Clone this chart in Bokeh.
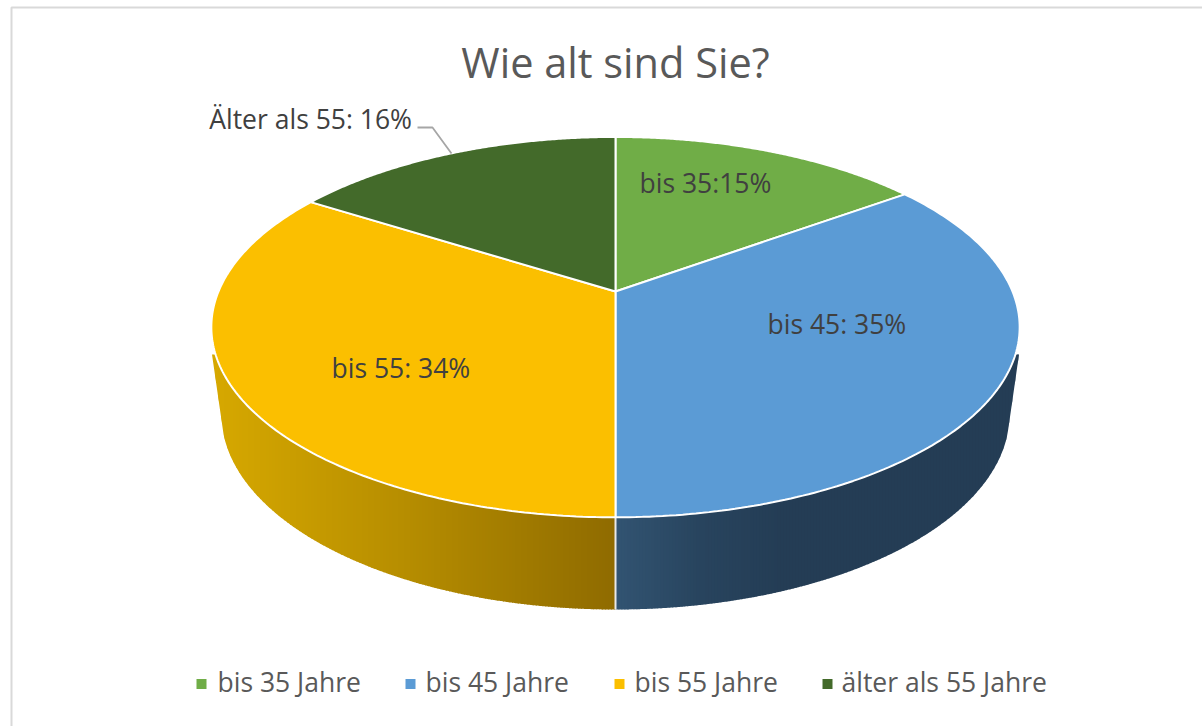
import numpy as np
from bokeh.plotting import figure
from bokeh.embed import file_html
from bokeh.resources import INLINE
from bokeh.core.properties import value

title = "Wie alt sind Sie?"
categories = ["bis 35 Jahre", "bis 45 Jahre", "bis 55 Jahre", "älter als 55 Jahre"]
shares = [15, 35, 34, 16]
slice_labels = ["bis 35:15%", "bis 45: 35%", "bis 55: 34%", "Älter als 55: 16%"]
colors = ["#70AD47", "#5B9BD5", "#FBBF00", "#436A2A"]

label_pos = [(639, 182, "left"), (767, 323, "left"), (331, 367, "left"), (411.5, 118, "right")]
legend_sq = [196, 405, 614, 822]
legend_tx = [217, 425, 634, 841]
FONT = "Open Sans"

W, H = 1202, 726
p = figure(width=W, height=H, x_range=(0, W), y_range=(H, 0), output_backend="svg",
           toolbar_location=None, min_border=0, margin=0,
           styles={"position": "absolute", "left": "0px", "top": "0px"},
           outline_line_color=None, background_fill_color="white", border_fill_color="white")
p.axis.visible = False
p.grid.visible = False

# perspective projection of the unit disc onto the picture
CX, AY = 615.0, 291.0      # pie centre as projected
PK, PA, PD = 0.1873, -129.0, 397.0

def project(theta):
    den = PK * np.cos(theta) + 1
    return CX + PD * np.sin(theta) / den, (PA * np.cos(theta) + AY) / den

# top-rim and bottom-rim outlines as functions of x
EU_Y, EU_B, EU_A = 326.5, 190.0, 403.5
EL_Y, EL_B, EL_A = 414.0, 195.0, 394.0
KNEE, TIP_Y = 392.0, 354.0

def upper(x):
    return np.maximum(EU_Y + EU_B * np.sqrt(np.clip(1 - ((x - CX) / EU_A) ** 2, 0, 1)), TIP_Y)

def lower(x):
    d = np.abs(x - CX)
    y = EL_Y + EL_B * np.sqrt(np.clip(1 - (d / EL_A) ** 2, 0, 1))
    yk = EL_Y + EL_B * np.sqrt(1 - (KNEE / EL_A) ** 2)
    return np.where(d > KNEE, yk + (d - KNEE) / (EU_A - KNEE) * (TIP_Y - yk), y)

def mix(stops, t):
    ts = [s[0] for s in stops]
    ch = [np.interp(t, ts, [s[1][i] for s in stops]) for i in range(3)]
    return "#%02x%02x%02x" % tuple(int(round(c)) for c in ch)

YEL = [(214, (214, 168, 0)), (400, (183, 142, 0)), (615, (143, 107, 0))]
BLU = [(615, (50, 84, 114)), (700, (40, 68, 94)), (780, (36, 61, 85)), (1018, (36, 61, 85))]

def side(x0, x1, stops, step=3.0):
    xs = np.arange(x0, x1, step)
    if len(xs) and xs[-1] < x1:
        xs = np.append(xs, x1)
    px, py, col = [], [], []
    for a, b in zip(xs[:-1], xs[1:]):
        e = min(b + 0.8, x1)
        xx = np.linspace(a, e, 4)
        px.append(np.r_[xx, xx[::-1]])
        py.append(np.r_[upper(xx), lower(xx)[::-1]])
        col.append(mix(stops, (a + b) / 2))
    p.patches(px, py, fill_color=col, line_color=None)

# sides
side(CX - EU_A, CX, YEL)
side(CX, CX + EU_A, BLU)
p.line([CX, CX], [upper(np.array(CX)), lower(np.array(CX))], line_color="#e8e8e8", line_width=2)

# top wedges
fr = np.cumsum([0] + shares) / sum(shares)
for i, s in enumerate(shares):
    th = 2 * np.pi * np.linspace(fr[i], fr[i + 1], 160)
    x, y = project(th)
    p.patch(np.r_[CX, x], np.r_[AY, y], fill_color=colors[i], line_color="white", line_width=2)

# slice labels
for (x, y, al), t in zip(label_pos, slice_labels):
    p.text([x], [y], text=[t], text_font=value(FONT), text_font_size="26.5px", text_color="#404040",
           text_align=al, text_baseline="middle")

# leader line
p.line([417, 432, 451], [127, 127, 153], line_color="#A6A6A6", line_width=1.8)

# title
p.text([615], [61], text=[title], text_font=value(FONT), text_font_size="41.5px", text_color="#595959",
       text_align="center", text_baseline="middle")

# legend
for c, n, sx, tx in zip(colors, categories, legend_sq, legend_tx):
    p.quad(left=sx, right=sx + 10, top=678.5, bottom=688.5, fill_color=c, line_color=None)
    p.text([tx], [681], text=[n], text_font=value(FONT), text_font_size="26.5px", text_color="#595959",
           text_align="left", text_baseline="middle")

# frame
p.line([11, 11, W], [H, 7, 7], line_color="#D9D9D9", line_width=2)

open("out.html", "w").write(file_html(p, INLINE))
